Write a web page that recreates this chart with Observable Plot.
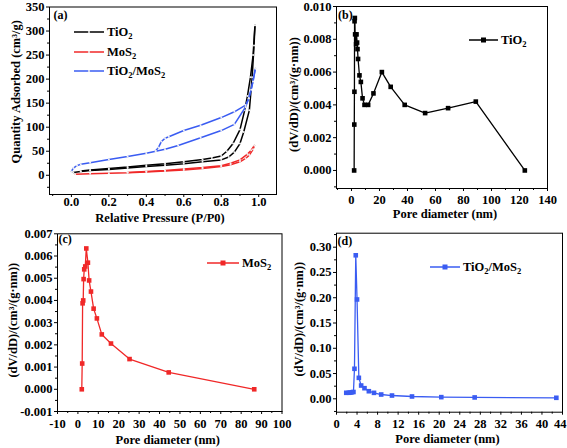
<!DOCTYPE html>
<html><head><meta charset="utf-8">
<script src="https://cdn.jsdelivr.net/npm/d3@7"></script>
<script src="https://cdn.jsdelivr.net/npm/@observablehq/plot@0.6"></script>
<style>
body{margin:0;background:#fff}
#wrap{position:relative;width:567px;height:448px;overflow:hidden;background:#fff}
#wrap svg{position:absolute;overflow:visible}
</style></head><body><div id="wrap"></div>
<script>
// ---------- (a) N2 isotherms: relative pressure / quantity adsorbed ----------
const tio2AdsP = [0.01,0.05,0.1,0.2,0.3,0.4,0.5,0.6,0.7,0.8,0.84,0.87,0.9,0.92,0.95,0.965,0.975,0.98];
const tio2AdsQ = [6,8,10,12,15,18,21,24,28,32,38,48,66,90,135,204,270,312];
const tio2DesP = [0.98,0.97,0.956,0.94,0.925,0.9,0.863,0.83,0.8,0.75,0.7,0.6,0.5,0.4,0.3,0.2,0.1,0.05];
const tio2DesQ = [312,250,204,165,135,95,66,50,40,36,33,28,24,21,17,14,11,9];
const mos2AdsP = [0.02,0.1,0.2,0.3,0.4,0.5,0.6,0.7,0.8,0.85,0.9,0.93,0.95,0.97,0.977];
const mos2AdsQ = [2,3,4,5,7,9,11,14,18,22,28,35,42,54,62];
const mos2DesP = [0.977,0.96,0.94,0.9,0.85,0.8,0.7,0.6,0.5,0.4,0.3];
const mos2DesQ = [62,52,44,32,25,20,16,13,10,8,6];
const compAdsP = [0.0,0.01,0.03,0.05,0.1,0.2,0.3,0.4,0.45,0.5,0.57,0.69,0.8,0.87,0.93,0.947,0.97,0.982];
const compAdsQ = [8,15,20,23,26,33,39,46,50,54,62,78,93,106,142,160,195,222];
const compDesP = [0.982,0.96,0.947,0.93,0.87,0.8,0.69,0.6,0.52,0.5,0.48,0.465,0.45];
const compDesQ = [222,178,160,146,132,120,104,93,80,77,70,58,51];
// ---------- (b) TiO2 pore size distribution ----------
const tio2PoreD = [1.9,2.0,2.1,2.2,2.4,2.6,3.3,3.6,4.0,4.3,4.7,5.7,6.7,7.9,9.3,11.9,15.7,21.7,28.0,38.0,52.6,69.0,88.8,123.8];
const tio2PoreV = [0,0.0028,0.0048,0.0091,0.0093,0.0083,0.0077,0.0083,0.0078,0.0074,0.0068,0.0058,0.0054,0.0044,0.0040,0.0040,0.0047,0.0060,0.0051,0.0040,0.0035,0.0038,0.0042,0];
// ---------- (c) MoS2 pore size distribution ----------
const mos2PoreD = [1.9,2.1,2.3,2.6,2.8,3.1,3.6,4.1,4.9,5.5,6.4,7.7,9.3,11.7,16.2,25.3,44.5,86.4];
const mos2PoreV = [0,0.00116,0.00387,0.0040,0.00496,0.0054,0.00553,0.00634,0.0057,0.0049,0.0044,0.00363,0.00319,0.00247,0.00206,0.00136,0.00076,0];
// ---------- (d) TiO2/MoS2 pore size distribution ----------
const compPoreD = [1.9,2.4,2.7,3.0,3.3,3.5,3.75,4.0,4.35,4.8,5.45,6.3,7.3,8.7,10.8,14.7,20.4,26.9,42.8];
const compPoreV = [0.0119,0.012,0.0123,0.013,0.0135,0.0594,0.284,0.1966,0.0415,0.0263,0.021,0.015,0.0118,0.0085,0.0065,0.0046,0.0033,0.0027,0.0020];
// ---------- labels ----------
const seriesNames = ["TiO2","MoS2","TiO2/MoS2"];
const xTitleA = "Relative Pressure (P/P0)";
const yTitleA = "Quantity Adsorbed (cm³/g)";
const xTitlePore = "Pore diameter (nm)";
const yTitlePore = "(dV/dD)/(cm³/(g·nm))";
const tags = ["(a)","(b)","(c)","(d)"];

const BLACK = "#000", RED = "#f02828", BLUE = "#3a5cf2";
const FONT = '"Liberation Serif","Times New Roman",serif';
const wrap = document.getElementById("wrap");
const range = (a, b, s) => d3.range(Math.round((b - a) / s) + 1).map(i => +(a + i * s).toFixed(6));

function panel(o) {
  const lastX = o.xEdge != null;
  const majorX = lastX ? o.xMajor.filter(v => v !== o.xEdge) : o.xMajor;
  const svg = Plot.plot({
    width: o.w, height: o.h,
    marginLeft: o.ml, marginRight: o.mr, marginTop: o.mt, marginBottom: o.mb,
    x: {domain: o.xd}, y: {domain: o.yd},
    style: {fontFamily: FONT, fontWeight: "bold", color: "#000", background: "transparent", overflow: "visible"},
    marks: [
      Plot.axisX({ticks: majorX, tickFormat: o.xFmt, tickSize: 3, tickPadding: o.xPad, fontSize: 12.5, label: null}),
      ...(lastX ? [
        Plot.axisX({ticks: [o.xEdge], tickFormat: () => "", tickSize: 3, label: null}),
        Plot.axisX({ticks: [o.xEdge], tickFormat: o.xFmt, tickSize: 0, tickPadding: 3 + o.xPad, textAnchor: "end", dx: 4, fontSize: 12.5, label: null})
      ] : []),
      Plot.axisX({ticks: o.xMinor, tickFormat: () => "", tickSize: 2, label: null}),
      Plot.axisY({ticks: o.yMajor, tickFormat: o.yFmt, tickSize: 3, tickPadding: 2, fontSize: 12.5, label: null}),
      Plot.axisY({ticks: o.yMinor, tickFormat: () => "", tickSize: 2, label: null}),
      Plot.text([o.xTitle], {text: d => d, frameAnchor: "bottom", textAnchor: "middle", lineAnchor: "middle", dx: o.xtDx, dy: o.xtDy, fontSize: 12.5}),
      Plot.text([o.yTitle], {text: d => d, frameAnchor: "left", textAnchor: "middle", lineAnchor: "middle", rotate: -90, dx: o.ytDx, dy: o.ytDy, fontSize: 12.5}),
      Plot.text([o.tag], {text: d => d, frameAnchor: "top-left", textAnchor: "start", lineAnchor: "middle", dx: o.tagDx, dy: o.tagDy, fontSize: 12}),
      ...o.marks,
      Plot.frame({stroke: "#000", strokeWidth: 1})
    ]
  });
  svg.style.left = o.left + "px";
  svg.style.top = o.top + "px";
  wrap.appendChild(svg);
  return svg;
}

function legendRow(svg, x1, x2, y, color, parts, marker) {
  const g = d3.select(svg).append("g").attr("text-anchor", "start");
  g.append("line").attr("x1", x1).attr("x2", x2).attr("y1", y).attr("y2", y)
    .attr("stroke", color).attr("stroke-width", 1.5);
  const cx = (x1 + x2) / 2;
  if (marker === "square") {
    g.append("rect").attr("x", cx - 2.5).attr("y", y - 2.5).attr("width", 5).attr("height", 5).attr("fill", color);
  } else {
    g.append("circle").attr("cx", cx).attr("cy", y).attr("r", 1.1).attr("fill", "#eee");
  }
  const t = g.append("text").attr("x", x2 + 3).attr("y", y).attr("dy", "0.33em").attr("text-anchor", "start")
    .attr("font-family", FONT).attr("font-weight", "bold").attr("font-size", 12.5).attr("fill", "#000");
  let shifted = false;
  parts.forEach((s, i) => {
    const sub = i % 2 === 1;
    const ts = t.append("tspan").text(s);
    if (sub) { ts.attr("font-size", 8.5).attr("dy", 3); shifted = true; }
    else if (shifted) { ts.attr("dy", -3); shifted = false; }
  });
}

// ---------- panel (a) ----------
function branch(P, Q, series, b) { return P.map((p, i) => ({p, q: Q[i], series, k: series + b})); }
const iso = [
  ...branch(tio2AdsP, tio2AdsQ, seriesNames[0], "a"), ...branch(tio2DesP, tio2DesQ, seriesNames[0], "d"),
  ...branch(mos2AdsP, mos2AdsQ, seriesNames[1], "a"), ...branch(mos2DesP, mos2DesQ, seriesNames[1], "d"),
  ...branch(compAdsP, compAdsQ, seriesNames[2], "a"), ...branch(compDesP, compDesQ, seriesNames[2], "d")
];
const colorOf = {[seriesNames[0]]: BLACK, [seriesNames[1]]: RED, [seriesNames[2]]: BLUE};
const isoMarks = [];
for (const s of seriesNames) {
  const d = iso.filter(r => r.series === s);
  isoMarks.push(Plot.line(d, {x: "p", y: "q", z: "k", stroke: colorOf[s], strokeWidth: 1.5}));
  isoMarks.push(Plot.dot(d, {x: "p", y: "q", r: 1, fill: "#eee", stroke: "none"}));
}
const svgA = panel({
  left: 0, top: 0, w: 283, h: 220, ml: 49, mr: 7, mt: 6.5, mb: 26,
  xd: [-0.117, 1.095], yd: [-40, 350],
  xMajor: range(0, 1, 0.2), xMinor: [-0.1, 0.1, 0.3, 0.5, 0.7, 0.9], xFmt: d => d.toFixed(1), xPad: 0,
  yMajor: range(0, 350, 50), yMinor: range(-25, 325, 50), yFmt: d => String(d),
  xTitle: xTitleA, xtDx: -3, xtDy: 23, yTitle: yTitleA, ytDx: -34, ytDy: -9,
  tag: tags[0], tagDx: 4, tagDy: 8.5,
  marks: isoMarks
});
legendRow(svgA, 74, 104, 32, BLACK, ["TiO", "2"]);
legendRow(svgA, 74, 104, 52, RED, ["MoS", "2"]);
legendRow(svgA, 74, 104, 71, BLUE, ["TiO", "2", "/MoS", "2"]);

// ---------- pore distribution panels ----------
function psdMarks(X, Y, color) {
  const d = X.map((x, i) => ({x, y: Y[i]}));
  return [
    Plot.line(d, {x: "x", y: "y", stroke: color, strokeWidth: 1.3}),
    Plot.dot(d, {x: "x", y: "y", symbol: "square", r: 2.6, fill: color, stroke: "none"})
  ];
}
const svgB = panel({
  left: 283, top: 0, w: 284, h: 220, ml: 53, mr: 20, mt: 6, mb: 32,
  xd: [-10.7, 140], yd: [-0.0011, 0.010],
  xMajor: range(0, 140, 20), xMinor: range(-10, 130, 20), xFmt: d => String(d), xPad: 4,
  yMajor: range(0, 0.010, 0.002), yMinor: range(-0.001, 0.009, 0.002), yFmt: d => d.toFixed(3),
  xTitle: xTitlePore, xtDx: 3, xtDy: 25, yTitle: yTitlePore, ytDx: -43, ytDy: -3,
  tag: tags[1], tagDx: 1.5, tagDy: 9,
  marks: psdMarks(tio2PoreD, tio2PoreV, BLACK)
});
legendRow(svgB, 186, 215, 40, BLACK, ["TiO", "2"], "square");

const svgC = panel({
  left: 0, top: 220, w: 283, h: 228, ml: 57, mr: 1.5, mt: 13.3, mb: 37,
  xd: [-10, 100], yd: [-0.001, 0.007],
  xMajor: range(-10, 100, 10), xMinor: range(-5, 95, 10), xFmt: d => String(d), xPad: 4.5,
  yMajor: range(-0.001, 0.007, 0.001), yMinor: range(-0.0005, 0.0065, 0.001), yFmt: d => d.toFixed(3),
  xTitle: xTitlePore, xtDx: -2, xtDy: 28, yTitle: yTitlePore, ytDx: -45, ytDy: -2.5,
  tag: tags[2], tagDx: 1, tagDy: 5.7,
  marks: psdMarks(mos2PoreD, mos2PoreV, RED)
});
legendRow(svgC, 207, 239, 43, RED, ["MoS", "2"], "square");

const svgD = panel({
  left: 283, top: 220, w: 284, h: 228, ml: 53, mr: 5, mt: 12.7, mb: 36.3,
  xd: [0, 44], yd: [-0.0265, 0.3277],
  xMajor: range(0, 44, 4), xEdge: 44, xMinor: range(2, 42, 4), xFmt: d => String(d), xPad: 3.5,
  yMajor: range(0, 0.30, 0.05), yMinor: range(-0.025, 0.325, 0.05), yFmt: d => d.toFixed(2),
  xTitle: xTitlePore, xtDx: -2, xtDy: 26.5, yTitle: yTitlePore, ytDx: -38, ytDy: -3.5,
  tag: tags[3], tagDx: 1, tagDy: 8.3,
  marks: psdMarks(compPoreD, compPoreV, BLUE)
});
legendRow(svgD, 147, 177, 47, BLUE, ["TiO", "2", "/MoS", "2"], "square");
</script></body></html>
